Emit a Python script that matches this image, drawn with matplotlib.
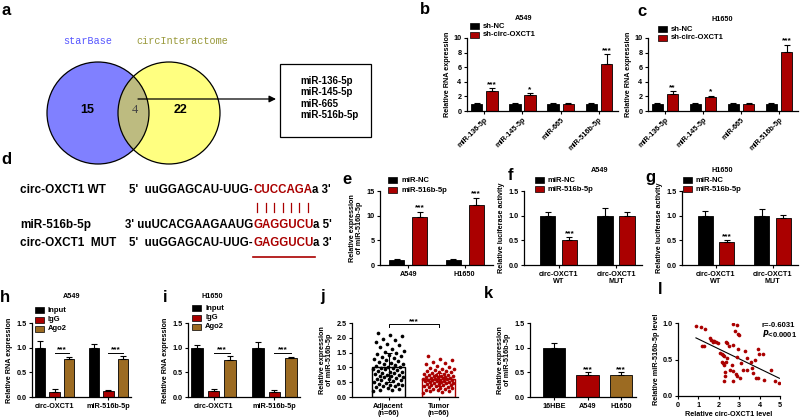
import numpy as np
import matplotlib
matplotlib.use("Agg")
import matplotlib.pyplot as plt
from matplotlib.patches import Circle, Rectangle

plt.rcParams['font.family'] = ['Liberation Sans', 'DejaVu Sans']
plt.rcParams['font.weight'] = 'bold'
plt.rcParams['axes.labelweight'] = 'bold'

W, H = 800, 417
RED = '#aa0000'
GOLD = '#9c6b22'

# ---------------- data ----------------
venn_names = ['starBase', 'circInteractome']
venn_counts = [15, 4, 22]
common_mirs = ['miR-136-5p', 'miR-145-5p', 'miR-665', 'miR-516b-5p']

# b / c: sh-NC vs sh-circ-OXCT1
b_nc = [1.0, 1.0, 1.0, 1.0]
b_nc_err = [0.1, 0.08, 0.15, 0.1]
b_sh = [2.8, 2.2, 0.95, 6.5]
b_sh_err = [0.35, 0.25, 0.12, 1.3]
b_sig = ['***', '*', '', '***']

c_nc = [1.0, 1.0, 1.0, 1.0]
c_nc_err = [0.08, 0.08, 0.08, 0.12]
c_sh = [2.35, 1.85, 0.95, 8.1]
c_sh_err = [0.35, 0.25, 0.1, 1.0]
c_sig = ['**', '*', '', '***']

# e: miR-516b-5p expression after mimic
e_cells = ['A549', 'H1650']
e_nc = [1.0, 1.0]
e_nc_err = [0.15, 0.15]
e_mimic = [9.7, 12.1]
e_mimic_err = [1.1, 1.5]

# f / g: luciferase
luc_groups = ['circ-OXCT1\nWT', 'circ-OXCT1\nMUT']
f_nc = [1.0, 1.0]
f_nc_err = [0.07, 0.15]
f_mimic = [0.5, 1.0]
f_mimic_err = [0.07, 0.07]
g_nc = [1.0, 1.0]
g_nc_err = [0.1, 0.13]
g_mimic = [0.46, 0.96]
g_mimic_err = [0.05, 0.06]

# h / i: RIP
rip_groups = ['circ-OXCT1', 'miR-516b-5p']
h_input = [1.0, 1.0]
h_input_err = [0.13, 0.08]
h_igg = [0.11, 0.12]
h_igg_err = [0.05, 0.03]
h_ago2 = [0.77, 0.77]
h_ago2_err = [0.05, 0.07]
i_input = [1.0, 1.0]
i_input_err = [0.05, 0.12]
i_igg = [0.13, 0.1]
i_igg_err = [0.03, 0.04]
i_ago2 = [0.75, 0.79]
i_ago2_err = [0.08, 0.03]

# j: tissues
j_groups = ['Adjacent\n(n=66)', 'Tumor\n(n=66)']
j_mean = [1.0, 0.6]
j_sd = [0.5, 0.22]
j_adjacent = [2.17, 2.10, 2.05, 1.97, 1.92, 1.85, 1.80, 1.74, 1.68, 1.62,
              1.57, 1.53, 1.48, 1.45, 1.41, 1.38, 1.35, 1.32, 1.28, 1.25,
              1.22, 1.19, 1.16, 1.13, 1.10, 1.08, 1.05, 1.03, 1.01, 0.99,
              0.97, 0.95, 0.93, 0.90, 0.88, 0.86, 0.84, 0.82, 0.80, 0.78,
              0.76, 0.74, 0.72, 0.70, 0.68, 0.66, 0.64, 0.62, 0.60, 0.58,
              0.56, 0.53, 0.50, 0.48, 0.45, 0.43, 0.41, 0.40, 0.38, 0.36,
              0.34, 0.31, 0.28, 0.25, 0.22, 0.19]
j_tumor = [1.37, 1.30, 1.24, 1.19, 1.14, 1.10, 1.06, 1.02, 0.99, 0.96,
           0.93, 0.91, 0.89, 0.87, 0.85, 0.83, 0.81, 0.79, 0.78, 0.76,
           0.75, 0.73, 0.72, 0.71, 0.70, 0.68, 0.67, 0.66, 0.65, 0.64,
           0.63, 0.62, 0.61, 0.60, 0.59, 0.58, 0.57, 0.56, 0.55, 0.54,
           0.53, 0.52, 0.50, 0.49, 0.48, 0.47, 0.46, 0.45, 0.43, 0.42,
           0.40, 0.39, 0.37, 0.36, 0.34, 0.33, 0.31, 0.30, 0.28, 0.27,
           0.25, 0.23, 0.21, 0.19, 0.17, 0.15]

# k: cell lines
k_cells = ['16HBE', 'A549', 'H1650']
k_vals = [1.0, 0.45, 0.44]
k_err = [0.1, 0.05, 0.06]
k_sig = ['', '***', '***']

# l: correlation
l_x = [0.88, 1.12, 1.34, 1.17, 1.25, 1.58, 1.64, 1.71, 1.78, 1.86,
       1.70, 1.94, 2.36, 2.40, 2.72, 2.88, 2.77, 2.96, 3.00, 2.69,
       3.26, 2.92, 2.51, 2.07, 2.15, 2.23, 2.26, 2.15, 2.20, 2.26,
       2.39, 2.88, 2.65, 2.33, 2.72, 2.85, 2.90, 2.31, 2.28, 2.25,
       2.69, 3.05, 3.20, 3.37, 3.61, 3.70, 3.80, 3.93, 3.99, 4.15,
       3.94, 3.78, 3.57, 3.40, 4.22, 4.56, 4.75, 4.97, 3.10, 2.55]
l_y = [0.96, 0.94, 0.92, 0.68, 0.68, 0.79, 0.77, 0.76, 0.75, 0.74,
       0.74, 0.73, 0.74, 0.72, 0.99, 0.97, 0.89, 0.85, 0.83, 0.70,
       0.62, 0.65, 0.68, 0.59, 0.57, 0.56, 0.55, 0.47, 0.45, 0.43,
       0.52, 0.54, 0.43, 0.46, 0.34, 0.30, 0.27, 0.27, 0.33, 0.20,
       0.20, 0.25, 0.35, 0.35, 0.38, 0.32, 0.25, 0.25, 0.58, 0.57,
       0.65, 0.49, 0.47, 0.52, 0.22, 0.36, 0.20, 0.18, 0.45, 0.35]
l_r = '-0.6031'

LAB = 5.2

fig = plt.figure(figsize=(W / 100, H / 100), dpi=100)
fig.patch.set_facecolor('white')

# overlay in pixel coordinates (venn, sequences, legends, letters)
ov = fig.add_axes([0, 0, 1, 1])
ov.set_xlim(0, W)
ov.set_ylim(H, 0)
ov.axis('off')


def px_axes(l, t, r, b):
    ax = fig.add_axes([l / W, 1 - b / H, (r - l) / W, (b - t) / H])
    ax.set_facecolor('none')
    for s in ['top', 'right']:
        ax.spines[s].set_visible(False)
    for s in ['left', 'bottom']:
        ax.spines[s].set_linewidth(0.9)
    ax.tick_params(length=2.5, width=0.8, labelsize=5.2, pad=1.5)
    return ax


def grouped(ax, series, errs, colors, width, spacing):
    n = len(series[0])
    x = np.arange(n)
    offs = (np.arange(len(series)) - (len(series) - 1) / 2) * spacing
    for vals, err, col, off in zip(series, errs, colors, offs):
        ax.bar(x + off, vals, width, color=col, edgecolor='black', linewidth=0.6, zorder=2)
        ax.errorbar(x + off, vals, yerr=[np.zeros(n), err], fmt='none', ecolor='black',
                    elinewidth=0.8, capsize=2.2, capthick=0.8, zorder=3)
    return x, offs


def sig(ax, x, y, txt, dy):
    if txt:
        ax.text(x, y + dy, txt, ha='center', va='center', fontsize=6)


def key(x, y, color, label):
    ov.add_patch(Rectangle((x, y - 3), 9, 6, fc=color, ec='black', lw=0.5))
    ov.text(x + 13, y, label, fontsize=5.5, va='center', ha='left')


def letter(x, y, s):
    ov.text(x, y, s, fontsize=12, ha='center', va='center')


def title(x, y, s):
    ov.text(x, y, s, fontsize=5.2, ha='center', va='center')


# ---------------- a: venn ----------------
letter(6, 10, 'a')
c1 = Circle((98, 113), 51, fc='#8080ff', ec='none')
c2 = Circle((169, 113), 51, fc='#ffff80', ec='none')
ov.add_patch(c1)
ov.add_patch(c2)
mid = Circle((169, 113), 51, fc='#bdbb80', ec='none')
ov.add_patch(mid)
mid.set_clip_path(Circle((98, 113), 51, transform=ov.transData))
ov.add_patch(Circle((98, 113), 51, fill=False, ec='black', lw=0.9))
ov.add_patch(Circle((169, 113), 51, fill=False, ec='black', lw=0.9))
ov.text(88, 41, venn_names[0], color='#5555ff', family='Liberation Mono', fontsize=7.3, ha='center', va='center', weight='normal')
ov.text(182, 41, venn_names[1], color='#99993a', family='Liberation Mono', fontsize=7.3, ha='center', va='center', weight='normal')
ov.text(87, 110, str(venn_counts[0]), fontsize=9, ha='center', va='center')
ov.text(135, 110, str(venn_counts[1]), fontsize=9, ha='center', va='center', family='Liberation Serif', weight='normal', color='#444444')
ov.text(181, 110, str(venn_counts[2]), fontsize=9, ha='center', va='center')
ov.annotate('', xy=(276, 99), xytext=(138, 99),
            arrowprops=dict(arrowstyle='-|>', color='black', lw=0.9, mutation_scale=10, shrinkA=0, shrinkB=0))
ov.add_patch(Rectangle((280, 64), 91, 73, fill=False, ec='black', lw=0.9))
for k, m in enumerate(common_mirs):
    ov.text(300, 81 + k * 11.3, m, fontsize=7, va='center', ha='left')

# ---------------- d: sequences ----------------
letter(6, 159, 'd')
rend = fig.canvas.get_renderer()
SEQ = 8.3


def seq_row(y, prefix, red, suffix, rx=253):
    ov.text(rx, y, prefix, ha='right', va='center', fontsize=SEQ)
    t2 = ov.text(rx, y, red, ha='left', va='center', fontsize=SEQ, color=RED)
    ext = t2.get_window_extent(renderer=rend)
    ov.text(ext.x1, y, suffix, ha='left', va='center', fontsize=SEQ)
    return ext.x0, ext.x1


ov.text(20, 190, 'circ-OXCT1 WT', fontsize=8.5, va='center')
ov.text(20, 225, 'miR-516b-5p', fontsize=8.5, va='center')
ov.text(20, 243, 'circ-OXCT1  MUT', fontsize=8.5, va='center')
x0, x1 = seq_row(190, "5'  uuGGAGCAU-UUG-", 'CUCCAGA', "a 3'")
seq_row(225, "3' uuUCACGAAGAAUG", 'GAGGUCU', "a 5'")
m0, m1 = seq_row(243, "5'  uuGGAGCAU-UUG-", 'GAGGUCU', "a 3'")
for k in range(7):
    xx = x0 + (k + 0.5) * (x1 - x0) / 7
    ov.plot([xx, xx], [203, 212], color=RED, lw=0.9)
ov.plot([m0, m1 + 2], [257, 257], color=RED, lw=1.2)

# ---------------- b / c ----------------
for (l, r, lt, tx, ty, ttl, nc, nce, sh, she, sg, kx, ky) in [
        (467, 618, (425, 9), 524, 18, 'A549', b_nc, b_nc_err, b_sh, b_sh_err, b_sig, 470, 26),
        (648, 798, (642, 11), 722, 19, 'H1650', c_nc, c_nc_err, c_sh, c_sh_err, c_sig, 658, 29)]:
    letter(lt[0], lt[1], 'b' if ttl == 'A549' else 'c')
    title(tx, ty, ttl)
    ax = px_axes(l, 38, r, 111)
    x, offs = grouped(ax, [nc, sh], [nce, she], ['black', RED], 0.3, 0.4)
    for i in range(4):
        sig(ax, x[i] + offs[1], sh[i] + she[i], sg[i], 0.5)
    ax.set_xlim(-0.45, 3.5)
    ax.set_ylim(0, 10)
    ax.set_yticks([0, 2, 4, 6, 8, 10])
    ax.set_xticks(x)
    ax.set_xticklabels(common_mirs, rotation=45, ha='right', rotation_mode='anchor')
    ax.set_ylabel('Relative RNA expression', fontsize=LAB, labelpad=2)
    key(kx, ky, 'black', 'sh-NC')
    key(kx, ky + 8.5, RED, 'sh-circ-OXCT1')

# ---------------- e ----------------
letter(347, 179, 'e')
ax = px_axes(380, 191, 493, 265)
x, offs = grouped(ax, [e_nc, e_mimic], [e_nc_err, e_mimic_err], ['black', RED], 0.27, 0.41)
for i in range(2):
    sig(ax, x[i] + offs[1], e_mimic[i] + e_mimic_err[i], '***', 0.8)
ax.set_xlim(-0.5, 1.5)
ax.set_ylim(0, 15)
ax.set_yticks([0, 5, 10, 15])
ax.set_xticks(x)
ax.set_xticklabels(e_cells)
ax.set_ylabel('Relative expression\nof miR-516b-5p', fontsize=LAB, labelpad=2, linespacing=1.1)
key(388, 180, 'black', 'miR-NC')
key(388, 190, RED, 'miR-516b-5p')

# ---------------- f / g ----------------
for (l, r, lt, tx, ttl, nc, nce, mm, mme, kx) in [
        (524, 642, (510, 175), 600, 'A549', f_nc, f_nc_err, f_mimic, f_mimic_err, 535),
        (682, 798, (650, 177), 722, 'H1650', g_nc, g_nc_err, g_mimic, g_mimic_err, 683)]:
    letter(lt[0], lt[1], 'f' if ttl == 'A549' else 'g')
    title(tx, 170, ttl)
    ax = px_axes(l, 191, r, 265)
    x, offs = grouped(ax, [nc, mm], [nce, mme], ['black', RED], 0.27, 0.38)
    sig(ax, x[0] + offs[1], mm[0] + mme[0], '***', 0.07)
    ax.set_xlim(-0.6, 1.45)
    ax.set_ylim(0, 1.5)
    ax.set_yticks([0, 0.5, 1.0, 1.5])
    ax.set_yticklabels(['0.0', '0.5', '1.0', '1.5'])
    ax.set_xticks(x)
    ax.set_xticklabels(luc_groups, linespacing=1.1)
    ax.set_ylabel('Relative luciferase activity', fontsize=LAB, labelpad=2)
    key(kx, 180, 'black', 'miR-NC')
    key(kx, 189, RED, 'miR-516b-5p')

# ---------------- h / i ----------------
for (l, r, lt, tx, ttl, inp, inpe, igg, igge, ago, agoe, kx, ky) in [
        (32, 131, (5, 297), 72, 'A549', h_input, h_input_err, h_igg, h_igg_err, h_ago2, h_ago2_err, 35, 310),
        (188, 300, (165, 297), 212, 'H1650', i_input, i_input_err, i_igg, i_igg_err, i_ago2, i_ago2_err, 192, 308)]:
    letter(lt[0], lt[1], 'h' if ttl == 'A549' else 'i')
    title(tx, 297, ttl)
    ax = px_axes(l, 323, r, 397)
    x, offs = grouped(ax, [inp, igg, ago], [inpe, igge, agoe], ['black', RED, GOLD], 0.19, 0.27)
    for i in range(2):
        yb = 0.89
        ax.plot([x[i] + offs[1], x[i] + offs[2]], [yb, yb], color='black', lw=0.7)
        ax.text(x[i] + (offs[1] + offs[2]) / 2, yb + 0.06, '***', ha='center', va='center', fontsize=6)
    ax.set_xlim(-0.42, 1.42)
    ax.set_ylim(0, 1.5)
    ax.set_yticks([0, 0.5, 1.0, 1.5])
    ax.set_yticklabels(['0.0', '0.5', '1.0', '1.5'])
    ax.set_xticks(x)
    ax.set_xticklabels(rip_groups)
    ax.set_ylabel('Relative RNA expression', fontsize=LAB, labelpad=2)
    key(kx, ky, 'black', 'Input')
    key(kx, ky + 9.5, RED, 'IgG')
    key(kx, ky + 19, GOLD, 'Ago2')

# ---------------- j ----------------
letter(322, 297, 'j')
ax = px_axes(352, 323, 458, 397)
for i, (vals, col) in enumerate([(j_adjacent, 'black'), (j_tumor, RED)]):
    ax.bar(i, j_mean[i], 0.66, fill=False, edgecolor=col, linewidth=1.0, zorder=1)
    order = np.sort(np.asarray(vals))
    offs = ((np.arange(len(order)) * 0.618034) % 1.0 - 0.5) * 0.62
    ax.scatter(i + offs, order, s=7, color=col, zorder=3, linewidths=0)
    ax.errorbar(i, j_mean[i], yerr=j_sd[i], fmt='none', ecolor=col, elinewidth=0.8,
                capsize=2.2, capthick=0.8, zorder=4)
ax.plot([0, 0, 1, 1], [2.38, 2.45, 2.45, 2.38], color='black', lw=0.7, clip_on=False)
ax.text(0.5, 2.53, '***', ha='center', va='center', fontsize=6)
ax.set_xlim(-0.73, 1.39)
ax.set_ylim(0, 2.5)
ax.set_yticks([0, 0.5, 1.0, 1.5, 2.0, 2.5])
ax.set_yticklabels(['0.0', '0.5', '1.0', '1.5', '2.0', '2.5'])
ax.set_xticks([0, 1])
ax.set_xticklabels(j_groups, linespacing=1.1)
ax.set_ylabel('Relative expression\nof miR-516b-5p', fontsize=LAB, labelpad=2, linespacing=1.1)

# ---------------- k ----------------
letter(488, 293, 'k')
ax = px_axes(530, 323, 636, 397)
x = np.arange(3)
ax.bar(x, k_vals, 0.66, color=['black', RED, GOLD], edgecolor='black', linewidth=0.6, zorder=2)
ax.errorbar(x, k_vals, yerr=[np.zeros(3), k_err], fmt='none', ecolor='black', elinewidth=0.8,
            capsize=2.5, capthick=0.8, zorder=3)
for i in range(3):
    sig(ax, x[i], k_vals[i] + k_err[i], k_sig[i], 0.06)
ax.set_xlim(-0.72, 2.45)
ax.set_ylim(0, 1.5)
ax.set_yticks([0, 0.5, 1.0, 1.5])
ax.set_yticklabels(['0.0', '0.5', '1.0', '1.5'])
ax.set_xticks(x)
ax.set_xticklabels(k_cells)
ax.set_ylabel('Relative expression\nof miR-516b-5p', fontsize=LAB, labelpad=2, linespacing=1.1)

# ---------------- l ----------------
letter(660, 290, 'l')
ax = px_axes(678, 323, 780, 396)
ax.scatter(l_x, l_y, s=7, color=RED, linewidths=0, zorder=3)
p = np.polyfit(l_x, l_y, 1)
xs = np.array([min(l_x), max(l_x)])
ax.plot(xs, np.polyval(p, xs), color='black', lw=0.8, zorder=2)
ax.set_xlim(0, 5)
ax.set_ylim(0, 1.0)
ax.set_yticks([0, 0.5, 1.0])
ax.set_yticklabels(['0.0', '0.5', '1.0'])
ax.set_xticks(range(6))
ax.set_xlabel('Relative circ-OXCT1 level', fontsize=LAB, labelpad=1.5)
ax.set_ylabel('Relative miR-516b-5p level', fontsize=LAB, labelpad=2)
ax.text(0.82, 0.97, 'r=' + l_r, transform=ax.transAxes, fontsize=5.5, ha='left', va='center')
ax.text(0.82, 0.85, r'$\bf{\it{P}}$<0.0001', transform=ax.transAxes, fontsize=5.5, ha='left', va='center')

fig.savefig('out.png', dpi=100, facecolor='white')
